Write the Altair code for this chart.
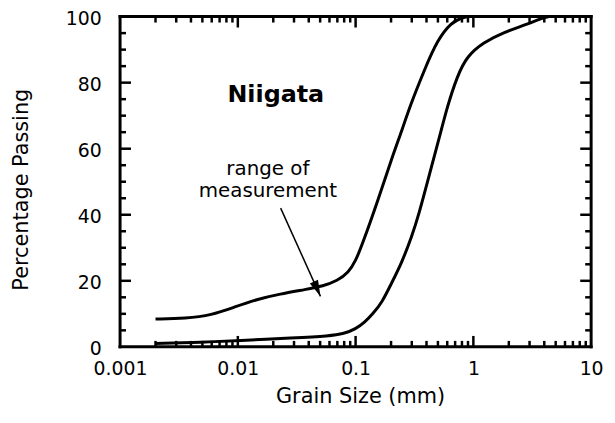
import altair as alt
import pandas as pd

# Upper boundary (finer) curve
upper_x = [0.002, 0.0036, 0.006, 0.0093, 0.0145, 0.0227, 0.038, 0.053, 0.07, 0.087,
           0.1, 0.114, 0.155, 0.204, 0.25, 0.288, 0.385, 0.496, 0.65, 0.79, 0.9]
upper_y = [8.4, 8.6, 9.6, 12.0, 14.4, 16.0, 17.4, 18.4, 20.0, 22.5,
           26.0, 31.0, 44.4, 57.4, 66.0, 72.7, 84.0, 93.0, 98.2, 99.6, 100.0]

# Lower boundary (coarser) curve
lower_x = [0.002, 0.005, 0.01, 0.03, 0.06, 0.08, 0.1, 0.12, 0.14, 0.168, 0.2, 0.247,
           0.3, 0.34, 0.44, 0.52, 0.6, 0.73, 0.88, 1.22, 1.79, 2.83, 3.9, 4.4]
lower_y = [1.0, 1.4, 1.9, 2.7, 3.3, 4.0, 5.4, 7.5, 10.0, 13.5, 19.0, 25.5,
           33.5, 39.3, 54.4, 64.0, 72.7, 82.0, 88.0, 92.2, 95.2, 97.6, 99.7, 100.0]

x_labels = [0.001, 0.01, 0.1, 1, 10]
y_labels = [0, 20, 40, 60, 80, 100]
y_major = [20, 40, 60, 80]
y_minor = [5, 10, 15, 25, 30, 35, 45, 50, 55, 65, 70, 75, 85, 90, 95]
x_major = [0.01, 0.1, 1]
x_minor = [m * 10.0 ** k for k in range(-3, 1) for m in range(2, 10)]

W, H = 475, 333
FONT = "DejaVu Sans"
XT = "Grain Size (mm)"
YT = "Percentage Passing"

xs = alt.Scale(type="log", domain=[0.001, 10])
ys = alt.Scale(domain=[0, 100])

x_axis = alt.Axis(
    values=x_labels, format="~g", title=XT, orient="bottom",
    ticks=False, domain=False, grid=False, labelOverlap=False, labelFlush=False,
    labelFont=FONT, labelFontSize=19, labelColor="black", labelPadding=13,
    titleFont=FONT, titleFontSize=21, titleFontWeight="normal", titleColor="black",
    titleX=242, titleY=56, titleBaseline="alphabetic", titleAlign="center")
y_axis = alt.Axis(
    values=y_labels, title=YT, orient="left",
    ticks=False, domain=False, grid=False, labelFlush=False, labelOverlap=False,
    labelFont=FONT, labelFontSize=19, labelColor="black", labelPadding=19, labelOffset=2,
    titleFont=FONT, titleFontSize=21, titleFontWeight="normal", titleColor="black",
    titleX=-93, titleY=174, titleBaseline="alphabetic", titleAlign="center")

curves = pd.concat([
    pd.DataFrame({"size": upper_x, "pct": upper_y, "s": "upper"}),
    pd.DataFrame({"size": lower_x, "pct": lower_y, "s": "lower"}),
])

lines = alt.Chart(curves).mark_line(
    interpolate="basis", color="black", strokeWidth=3
).encode(
    x=alt.X("size:Q", scale=xs, axis=x_axis),
    y=alt.Y("pct:Q", scale=ys, axis=y_axis),
    detail="s:N",
)

# tick marks (inward, all four sides)
def yticks(vals, x0, x1):
    return alt.Chart(pd.DataFrame({"yv": vals})).mark_rule(
        color="black", strokeWidth=2.5).encode(
        y=alt.Y("yv:Q", scale=ys, axis=None), x=alt.value(x0), x2=alt.value(x1))

def xticks(vals, y0, y1):
    return alt.Chart(pd.DataFrame({"xv": vals})).mark_rule(
        color="black", strokeWidth=2.5).encode(
        x=alt.X("xv:Q", scale=xs, axis=None), y=alt.value(y0), y2=alt.value(y1))

tick_layers = [
    yticks(y_minor, 0, 6), yticks(y_major, 0, 11),
    yticks(y_minor, W, W - 6), yticks(y_major, W, W - 11),
    xticks(x_minor, H, H - 6), xticks(x_major, H, H - 11),
    xticks(x_minor, 0, 6), xticks(x_major, 0, 11),
]

# plot frame
def frame(x0, x1, y0, y1):
    return alt.Chart(pd.DataFrame({"f": [0]})).mark_rule(
        color="black", strokeWidth=3, strokeCap="square").encode(
        x=alt.value(x0), x2=alt.value(x1), y=alt.value(y0), y2=alt.value(y1))

frame_layers = [frame(0, W, 0, 0), frame(0, W, H, H), frame(0, 0, 0, H), frame(W, W, 0, H)]

title_txt = alt.Chart(pd.DataFrame({"x": [0.021], "y": [76.3], "t": ["Niigata"]})).mark_text(
    font=FONT, fontSize=24, fontWeight="bold", color="black", align="center", baseline="middle"
).encode(x=alt.X("x:Q", scale=xs, axis=None), y=alt.Y("y:Q", scale=ys, axis=None), text="t:N")

note_txt = alt.Chart(pd.DataFrame({"x": [0.018], "y": [53.7], "t": ["range of\nmeasurement"]})).mark_text(
    font=FONT, fontSize=20, color="black", align="center", baseline="middle",
    lineBreak="\n", lineHeight=22
).encode(x=alt.X("x:Q", scale=xs, axis=None), y=alt.Y("y:Q", scale=ys, axis=None), text="t:N")

arrow_df = pd.DataFrame({"x": [0.0231], "y": [42.0], "x2": [0.0503], "y2": [15.3]})
arrow_line = alt.Chart(arrow_df).mark_rule(color="black", strokeWidth=1.5).encode(
    x=alt.X("x:Q", scale=xs, axis=None), y=alt.Y("y:Q", scale=ys, axis=None),
    x2="x2:Q", y2="y2:Q")
arrow_head = alt.Chart(arrow_df).mark_point(
    shape="M0,0L0.5,1.8L-0.5,1.8Z", filled=True, color="black", opacity=1,
    size=324, angle=156, strokeWidth=0
).encode(x=alt.X("x2:Q", scale=xs, axis=None), y=alt.Y("y2:Q", scale=ys, axis=None))

chart = alt.layer(lines, title_txt, note_txt, arrow_line, arrow_head,
                  *frame_layers, *tick_layers).resolve_axis(
    x="independent", y="independent"
).properties(
    width=W, height=H,
    background="white",
    autosize=alt.AutoSizeParams(type="none"),
    padding={"left": 113, "top": 7, "right": 16, "bottom": 62},
).configure_view(strokeWidth=0)

chart.save("out.html", embed_options={"renderer": "svg", "actions": False})
